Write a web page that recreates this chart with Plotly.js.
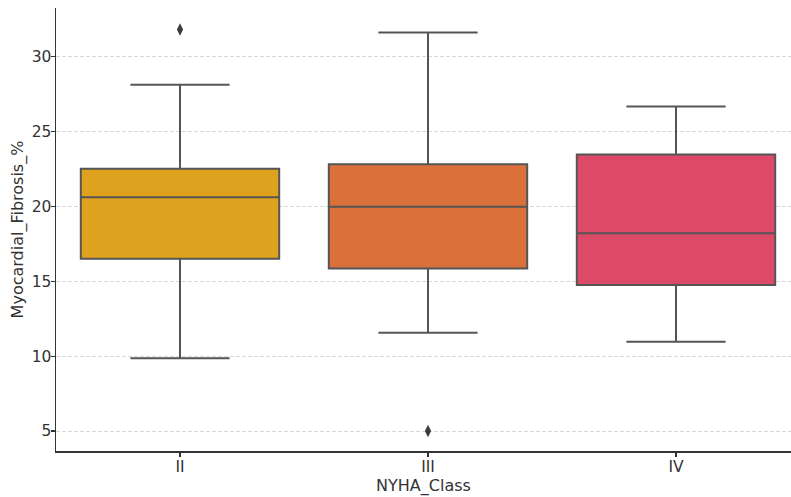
<!DOCTYPE html>
<html>
<head>
<meta charset="utf-8">
<script src="https://cdn.plot.ly/plotly-3.0.1.min.js"></script>
<style>html,body{margin:0;padding:0;background:#fff;}#chart{width:791px;height:497px;}</style>
</head>
<body>
<div id="chart"></div>
<script>
// Data
const categories = ["II", "III", "IV"];
const q1 = [16.5, 15.85, 14.75];
const medians = [20.6, 19.97, 18.2];
const q3 = [22.5, 22.8, 23.45];
const lowerFence = [9.85, 11.55, 10.95];
const upperFence = [28.1, 31.6, 26.65];
const outlierCats = ["II", "III"];
const outlierValues = [31.8, 5.0];
const colors = ["#DFA21F", "#DA703A", "#DD4A67"];

const edge = "#555555";
const traces = categories.map((c, i) => ({
  type: "box",
  x: [c],
  q1: [q1[i]],
  median: [medians[i]],
  q3: [q3[i]],
  lowerfence: [lowerFence[i]],
  upperfence: [upperFence[i]],
  width: 0.8,
  whiskerwidth: 0.5,
  fillcolor: colors[i],
  line: {color: edge, width: 2},
  boxpoints: false,
  hoverinfo: "skip",
  showlegend: false
}));
traces.push({
  type: "scatter",
  mode: "markers",
  x: outlierCats,
  y: outlierValues,
  marker: {symbol: "diamond-tall", size: 9, color: "#3d3d3d"},
  hoverinfo: "skip",
  showlegend: false
});

const tickFont = {family: "DejaVu Sans, sans-serif", size: 15.5, color: "#333"};
const titleFont = {family: "DejaVu Sans, sans-serif", size: 16, color: "#333"};
const layout = {
  width: 791, height: 497,
  margin: {l: 56, r: 0, t: 8, b: 46},
  paper_bgcolor: "#fff", plot_bgcolor: "#fff",
  boxmode: "overlay",
  font: tickFont,
  xaxis: {
    type: "category",
    categoryorder: "array", categoryarray: categories,
    range: [-0.5, 2.4637],
    showline: true, linecolor: "#333", linewidth: 1.5,
    ticks: "outside", ticklen: 4, tickcolor: "#333", tickwidth: 1.2,
    ticklabelstandoff: -3,
    showgrid: false, zeroline: false,
    title: {text: "NYHA_Class", font: titleFont, standoff: 4},
    tickfont: tickFont
  },
  yaxis: {
    range: [3.667, 33.23],
    tickvals: [5, 10, 15, 20, 25, 30],
    showline: true, linecolor: "#333", linewidth: 1.5,
    ticks: "outside", ticklen: 4, tickcolor: "#333", tickwidth: 1.2,
    ticklabelstandoff: -4,
    showgrid: true, gridcolor: "rgba(190,190,190,0.6)", griddash: "4px,2px", gridwidth: 1,
    zeroline: false,
    layer: "above traces",
    title: {text: "Myocardial_Fibrosis_%", font: titleFont, standoff: 4},
    tickfont: tickFont
  }
};
Plotly.newPlot("chart", traces, layout, {displayModeBar: false, staticPlot: true});
</script>
</body>
</html>
